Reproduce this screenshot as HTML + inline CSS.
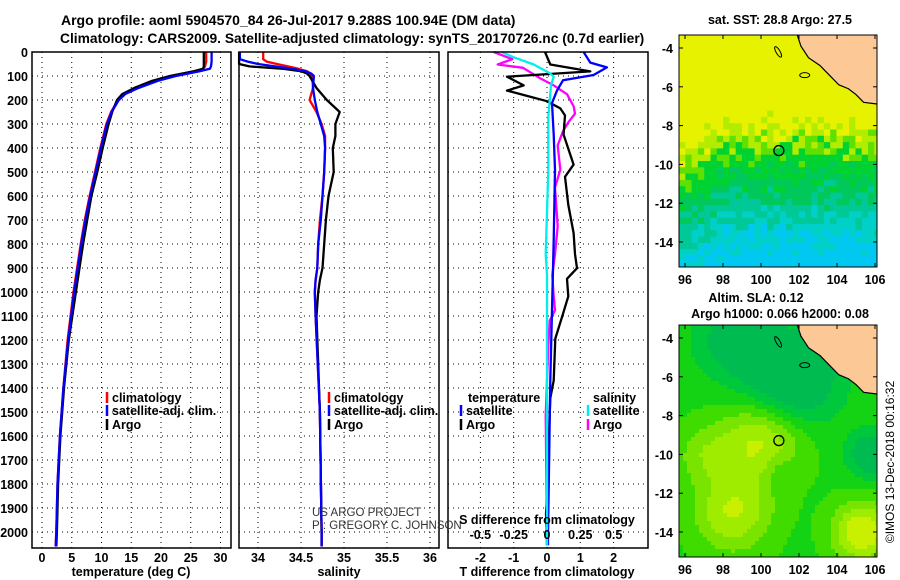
<!DOCTYPE html>
<html><head><meta charset="utf-8"><style>
body{margin:0;background:#fff}
svg{display:block;font-family:"Liberation Sans",Arial,sans-serif;font-weight:bold}
</style></head><body>
<svg id="fig" width="900" height="580" viewBox="0 0 900 580" xmlns="http://www.w3.org/2000/svg">
<text x="61" y="25" font-size="14">Argo profile: aoml 5904570_84 26-Jul-2017 9.288S 100.94E (DM data)</text>
<text x="60" y="43" font-size="13.8">Climatology: CARS2009. Satellite-adjusted climatology: synTS_20170726.nc (0.7d earlier)</text>
<g id="grid"></g>
<g id="lines"></g>
<g id="frames"></g>
<g id="labels" font-size="12.5"></g>
<g id="maps"></g>
<text x="312" y="516" font-size="11.5" font-weight="normal" fill="#333">US ARGO PROJECT</text>
<text x="312" y="529" font-size="11.5" font-weight="normal" fill="#333">PI: GREGORY C. JOHNSON</text>
<text x="547" y="524" font-size="12.5" text-anchor="middle">S difference from climatology</text>
<text x="131" y="576" font-size="12.5" text-anchor="middle">temperature (deg C)</text>
<text x="339" y="576" font-size="12.5" text-anchor="middle">salinity</text>
<text x="547" y="576" font-size="12.5" text-anchor="middle">T difference from climatology</text>
<text x="780" y="24" font-size="12.5" text-anchor="middle">sat. SST: 28.8 Argo: 27.5</text>
<text x="756" y="302" font-size="12.5" text-anchor="middle">Altim. SLA: 0.12</text>
<text x="780" y="318" font-size="12.5" text-anchor="middle">Argo h1000: 0.066 h2000: 0.08</text>
<text transform="translate(894,462) rotate(-90)" font-size="12" font-weight="normal" text-anchor="middle">©IMOS 13-Dec-2018 00:16:32</text>
</svg>
<script>
// ---------- data ----------
const depthTicks=[0,100,200,300,400,500,600,700,800,900,1000,1100,1200,1300,1400,1500,1600,1700,1800,1900,2000];
const tTicks=[0,5,10,15,20,25,30];
const sTicks=[34,34.5,35,35.5,36];
const sTickLabels=["34","34.5","35","35.5","36"];
const dTTicks=[-2,-1,0,1,2];
const dSTicks=[-0.5,-0.25,0,0.25,0.5];
const dSTickLabels=["-0.5","-0.25","0","0.25","0.5"];

const tDepth=[0,20,40,60,70,80,90,100,120,150,175,200,250,300,400,500,600,700,800,900,1000,1200,1400,1600,1800,2000,2060];
const tArgo=[27.2,27.2,27.2,27.2,27.1,25.5,23.5,21.5,18.5,15.5,13.5,12.6,11.8,11.2,10.2,9.3,8.3,7.6,6.9,6.3,5.7,4.5,3.7,3.1,2.7,2.5,2.4];
const tClim=[27.6,27.6,27.6,27.4,27.0,25.8,24.0,22.0,19.0,16.0,13.8,12.8,11.6,10.8,9.8,8.9,8.0,7.2,6.5,5.9,5.3,4.3,3.6,3.0,2.6,2.4,2.3];
const tSat=[28.5,28.5,28.5,28.4,28.2,26.5,24.5,22.5,19.5,16.2,14.0,12.9,11.7,10.9,9.9,9.0,8.1,7.3,6.6,6.0,5.4,4.4,3.6,3.0,2.6,2.4,2.3];

const sDepth=[0,30,40,50,60,70,80,90,100,150,200,250,300,350,400,500,600,700,800,900,950,1000,1100,1500,2000,2060];
const sArgo=[33.78,33.78,33.78,33.78,33.9,34.3,34.5,34.57,34.6,34.68,34.8,34.95,34.9,34.9,34.87,34.88,34.82,34.79,34.77,34.75,34.72,34.7,34.68,34.72,34.74,34.74];
const sClim=[34.06,34.06,34.1,34.22,34.35,34.47,34.57,34.61,34.63,34.64,34.6,34.68,34.74,34.78,34.78,34.77,34.75,34.72,34.7,34.69,34.67,34.66,34.67,34.72,34.74,34.74];
const sSat=[33.79,33.79,33.88,34.0,34.2,34.4,34.55,34.62,34.65,34.64,34.66,34.69,34.73,34.77,34.78,34.77,34.75,34.73,34.7,34.69,34.67,34.66,34.67,34.72,34.74,34.74];

const dDepthT=[0,52,81,103,139,161,183,205,235,264,344,469,520,637,754,842,901,945,1018,1091,1194,1369,1442,1589,1809,1925,2013,2055];
const dTArgo=[-0.06,0.1,1.3,-1.2,-0.7,-1.2,-0.6,0,0.4,0.54,0.5,0.8,0.54,0.64,0.8,0.84,0.9,0.6,0.64,0.48,0.25,0.2,0.1,0.06,0.03,-0.03,0,0];
const dDepthTS=[0,44,64,96,118,161,213,344,491,784,1076,1369,2013,2055];
const dTSat=[1.1,1.3,1.8,1.4,0.48,0.3,0.15,0.2,0.24,0.2,0.15,0.1,0.03,0.03];
const dDepthS=[0,30,52,66,110,139,176,227,257,293,330,389,491,564,725,842,930,1018,1076,1120,1223,1369,1515,2013,2055];
const dSArgo=[-0.4,-0.26,-0.37,-0.18,-0.05,0.05,0.15,0.2,0.21,0.16,0.12,0.08,0.1,0.06,0.08,0.06,0.04,0.05,0.06,0.02,0.01,0,-0.01,0,0];
const dDepthSS=[0,22,52,88,103,139,271,491,842,930,2013,2055];
const dSSat=[-0.34,-0.25,-0.1,0.02,0.05,0.03,0.01,0.01,-0.01,0,0,0];

// ---------- scales ----------
const TOP=52,BOT=548;
const yD=d=>TOP+d*0.24;
const xT=t=>42+t*5.95;
const xS=s=>258+(s-34)*86;
const xDT=v=>547+v*33.3;
const xDS=v=>547+v*133.3;
const panels=[[32,231],[239,439],[448,648]];
const NS="http://www.w3.org/2000/svg";
function mk(tag,attrs,parent){const e=document.createElementNS(NS,tag);for(const k in attrs)e.setAttribute(k,attrs[k]);parent.appendChild(e);return e;}
const G=document.getElementById('grid'),L=document.getElementById('lines'),F=document.getElementById('frames'),LB=document.getElementById('labels'),M=document.getElementById('maps');

panels.forEach(([a,b],i)=>{
  depthTicks.forEach(d=>{
    const l=mk('line',{x1:a,x2:b,y1:yD(d),y2:yD(d),stroke:'#000','stroke-width':1,'stroke-dasharray':'1,4'},G);
    
    
  });
});
const vg=[[tTicks,xT],[sTicks,xS],[dTTicks,xDT]];
vg.forEach(([ticks,fx])=>ticks.forEach(v=>{
  const l=mk('line',{x1:fx(v),x2:fx(v),y1:TOP,y2:BOT,stroke:'#000','stroke-width':1,'stroke-dasharray':'1,4'},G);
  
  
}));
panels.forEach(([a,b],i)=>{
  const r=mk('rect',{x:a,y:TOP,width:b-a,height:BOT-TOP,fill:'none',stroke:'#000','stroke-width':1.5},F);
  
  
});
function series(depths,vals,fx,color,name){
  const pts=depths.map((d,i)=>fx(vals[i]).toFixed(1)+','+yD(d).toFixed(1)).join(' ');
  const p=mk('polyline',{points:pts,fill:'none',stroke:color,'stroke-width':2.3,'stroke-linejoin':'round'},L);
  
  
}
series(tDepth,tClim,xT,'#f00','temperature-climatology-line');
series(tDepth,tArgo,xT,'#000','temperature-argo-line');
series(tDepth,tSat,xT,'#00f','temperature-satellite-line');
series(sDepth,sClim,xS,'#f00','salinity-climatology-line');
series(sDepth,sArgo,xS,'#000','salinity-argo-line');
series(sDepth,sSat,xS,'#00f','salinity-satellite-line');
series(dDepthS,dSArgo,xDS,'#f0f','salinity-diff-argo-line');
series(dDepthT,dTArgo,xDT,'#000','temperature-diff-argo-line');
series(dDepthTS,dTSat,xDT,'#00f','temperature-diff-satellite-line');
series(dDepthSS,dSSat,xDS,'#0ee','salinity-diff-satellite-line');

function txt(x,y,s,anchor,name,parent,extra){const t=mk('text',Object.assign({x:x,y:y,'text-anchor':anchor||'start'},extra||{}),parent||LB);t.textContent=s;return t;}
depthTicks.forEach(d=>txt(28,yD(d)+5,String(d),'end','depth-tick-label'));
tTicks.forEach(v=>txt(xT(v),562,String(v),'middle','temperature-tick-label'));
sTicks.forEach((v,i)=>txt(xS(v),562,sTickLabels[i],'middle','salinity-tick-label'));
dTTicks.forEach(v=>txt(xDT(v),562,String(v),'middle','t-diff-tick-label'));
dSTicks.forEach((v,i)=>txt(xDS(v),539,dSTickLabels[i],'middle','s-diff-tick-label'));
function leg(x,y,color,label,name){
  const m=mk('line',{x1:x,x2:x,y1:y-10,y2:y+1,stroke:color,'stroke-width':2.5},LB);
  
  
  txt(x+5,y,label,'start',name);
}
leg(107,402,'#f00','climatology','legend-climatology');
leg(107,415,'#00f','satellite-adj. clim.','legend-satellite');
leg(107,429,'#000','Argo','legend-argo');
leg(329,402,'#f00','climatology','legend-sal-climatology');
leg(329,415,'#00f','satellite-adj. clim.','legend-sal-satellite');
leg(329,429,'#000','Argo','legend-sal-argo');
txt(468,402,'temperature','start','legend-temperature-heading');
leg(461,415,'#00f','satellite','legend-t-satellite');
leg(461,429,'#000','Argo','legend-t-argo');
txt(593,402,'salinity','start','legend-salinity-heading');
leg(588,415,'#0ee','satellite','legend-s-satellite');
leg(588,429,'#f0f','Argo','legend-s-argo');

// ---------- maps ----------
const lonTicks=[96,98,100,102,104,106];
const latTicks=[-4,-6,-8,-10,-12,-14];
const MX0=679,MX1=877;
const mx=lon=>685+(lon-96)*19;
function hash(i,j){let h=(i*374761393+j*668265263)^0x5bd1e995;h=(h^(h>>>13))*1274126177;return ((h^(h>>>16))>>>0)/4294967296;}
const land=[[101.9,-3.3],[102.1,-3.9],[102.5,-4.5],[103.1,-4.9],[103.6,-5.4],[104.1,-5.9],[104.6,-6.1],[105.0,-6.4],[105.4,-6.8],[106.2,-6.9],[106.2,-3.3]];
function drawMap(y0,y1,latY,kind){
  const g=mk('g',{},M);
  
  
  const cid='clip'+kind;const cp=document.createElementNS(NS,'clipPath');cp.id=cid;mk('rect',{x:MX0,y:y0,width:MX1-MX0,height:y1-y0},cp);g.appendChild(cp);
  const inner=mk('g',{'clip-path':'url(#'+cid+')'},g);
  const step=kind==='sst'?6.3:4;
  for(let x=MX0,i=0;x<MX1;x+=step,i++)for(let y=y0,j=0;y<y1;y+=step,j++){
    const lon=96+(x+step/2-685)/19, lat=-4-(y+step/2-latY)/19.4;
    let c;
    if(kind==='sst'){
      let v=(lat+15.3)/10+(lon<98.5?0.12*(98.5-lon)/2.5:0)+(hash(i,j)-0.5)*0.18;
      c=v>0.72?'#e6f200':v>0.65?'#b4ec00':v>0.58?'#5ee000':v>0.47?'#00d232':v>0.36?'#00c85a':v>0.25?'#00c896':v>0.14?'#00d0c8':'#00c8f0';
    }else{
      const gs=(a,b,s,w)=>w*Math.exp(-((lon-a)*(lon-a)+(lat-b)*(lat-b))/(s*s));
      let v=0.45+gs(100,-9.3,2.2,0.45)+gs(98.5,-13,2,0.4)+gs(105.3,-14,1.5,0.55)+gs(97,-10,1.5,0.2)-gs(101.5,-6,2.5,0.5)-gs(98.5,-4,2,0.3)-gs(105.8,-10,1.2,0.4)-gs(101,-11,1,0.15);
      c=v>0.85?'#c8f000':v>0.72?'#a0ec00':v>0.6?'#78e400':v>0.48?'#40dc00':v>0.36?'#14d214':v>0.24?'#00c83c':'#00bc50';
    }
    mk('rect',{x:x,y:y,width:step+0.5,height:step+0.5,fill:c},inner);
  }
  const lp=mk('polygon',{points:land.map(([lo,la])=>mx(lo)+','+(latY+(-4-la)*19.4)).join(' '),fill:'#fcc896',stroke:'#000','stroke-width':1.2},inner);
  
  
  const isl=mk('ellipse',{cx:mx(102.3),cy:latY+(-4+5.4)*19.4,rx:5,ry:2.5,fill:'none',stroke:'#000','stroke-width':1},inner);
  
  
  const isl2=mk('ellipse',{cx:mx(100.9),cy:latY+(-4+4.2)*19.4,rx:2,ry:6,fill:'none',stroke:'#000','stroke-width':1,transform:'rotate(-30 '+mx(100.9)+' '+(latY+(-4+4.2)*19.4)+')'},inner);
  
  
  const ci=mk('circle',{cx:mx(100.94),cy:latY+(-4+9.288)*19.4,r:5,fill:'none',stroke:'#000','stroke-width':1.3},inner);
  
  
  const fr=mk('rect',{x:MX0,y:y0,width:MX1-MX0,height:y1-y0,fill:'none',stroke:'#000','stroke-width':1},g);
  
  
  latTicks.forEach(la=>{const y=latY+(-4-la)*19.4;txt(673,y+5,String(la),'end','latitude-label',g);mk('line',{x1:MX0,x2:MX0+4,y1:y,y2:y,stroke:'#000'},g);mk('line',{x1:MX1-4,x2:MX1,y1:y,y2:y,stroke:'#000'},g);});
  lonTicks.forEach(lo=>{txt(mx(lo),y1+17,String(lo),'middle','longitude-label',g);mk('line',{x1:mx(lo),x2:mx(lo),y1:y1-4,y2:y1,stroke:'#000'},g);mk('line',{x1:mx(lo),x2:mx(lo),y1:y0,y2:y0+4,stroke:'#000'},g);});
}
drawMap(35,267,48,'sst');
drawMap(325,557,338,'sla');
M.setAttribute('font-size','12.5');
</script>
</body></html>
